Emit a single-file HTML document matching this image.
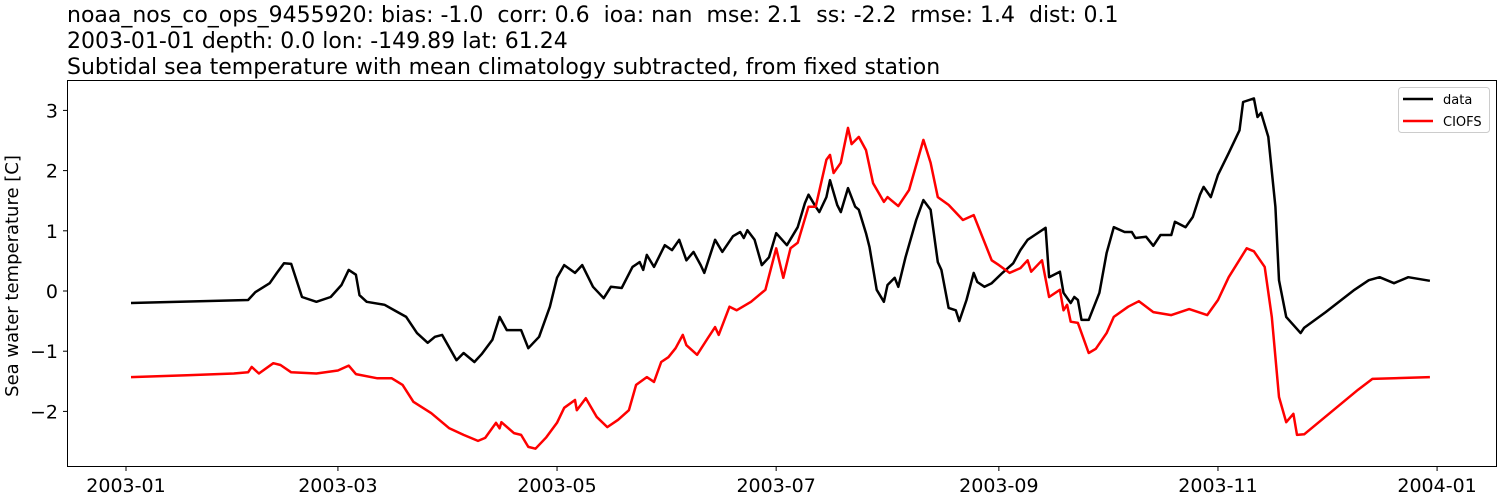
<!DOCTYPE html>
<html><head><meta charset="utf-8"><style>
body{margin:0;background:#fff;}
svg{display:block;font-family:"DejaVu Sans","Liberation Sans",sans-serif;}
text{white-space:pre;}
</style></head><body>
<svg id="chart" width="1500" height="500" xmlns="http://www.w3.org/2000/svg">
<g font-size="22" fill="#000">
<text x="67" y="22" xml:space="preserve">noaa_nos_co_ops_9455920: bias: -1.0  corr: 0.6  ioa: nan  mse: 2.1  ss: -2.2  rmse: 1.4  dist: 0.1</text>
<text x="67" y="48">2003-01-01 depth: 0.0 lon: -149.89 lat: 61.24</text>
<text x="67" y="74">Subtidal sea temperature with mean climatology subtracted, from fixed station</text>
</g>
<text transform="translate(18,276) rotate(-90)" text-anchor="middle" font-size="18">Sea water temperature [C]</text>
<g id="axes"></g>
<g id="series"></g>
<rect x="67.5" y="80.5" width="1429" height="386" fill="none" stroke="#000" stroke-width="1"/>
<g>
<rect x="1398.5" y="87.5" width="91" height="45" rx="3" fill="#fff" fill-opacity="0.8" stroke="#ccc"/>
<line x1="1403" y1="99" x2="1433" y2="99" stroke="#000" stroke-width="2.5"/>
<text x="1443" y="104" font-size="13">data</text>
<line x1="1403" y1="121" x2="1433" y2="121" stroke="#f00" stroke-width="2.5"/>
<text x="1443" y="126" font-size="13">CIOFS</text>
</g>
</svg>
<script>
const dataDays=[1.4,34,36,40,42,44,46,49,53,57,60,62,64,65,67,72,75,78,81,84,86,88,92,94,97,99,102,104,106,110,112,115,118,120,122,125,127,130,133,135,138,141,143,144,145,147,150,152,154,156,158,160,161,164,166,169,171,172,173,175,177,179,181,184,187,189,190,192,193,195,196,198,199,201,203,204,206,207,209,211,212,214,215,217,220,222,224,226,227,229,231,232,234,236,237,239,241,244,247,249,251,253,256,257,260,261,263,264,265,266,268,271,273,275,278,280,281,284,286,288,291,292,295,297,299,300,302,304,307,310,311,314,315,316,318,320,321,323,327,328,334,342,346,349,353,357,363];
const dataVals=[-0.2,-0.15,-0.02,0.13,0.3,0.46,0.45,-0.1,-0.18,-0.1,0.1,0.35,0.27,-0.07,-0.18,-0.23,-0.33,-0.43,-0.7,-0.86,-0.76,-0.73,-1.15,-1.03,-1.18,-1.05,-0.81,-0.43,-0.65,-0.65,-0.95,-0.76,-0.26,0.22,0.43,0.3,0.43,0.07,-0.12,0.07,0.05,0.4,0.48,0.35,0.6,0.4,0.76,0.68,0.85,0.51,0.65,0.43,0.3,0.85,0.65,0.91,0.98,0.88,1.01,0.85,0.43,0.56,0.96,0.76,1.06,1.46,1.6,1.4,1.31,1.56,1.84,1.43,1.31,1.71,1.4,1.35,0.96,0.73,0.02,-0.18,0.1,0.22,0.07,0.56,1.18,1.51,1.35,0.48,0.35,-0.28,-0.32,-0.5,-0.15,0.3,0.15,0.07,0.13,0.3,0.46,0.68,0.85,0.93,1.05,0.23,0.32,-0.03,-0.2,-0.1,-0.15,-0.48,-0.48,-0.03,0.63,1.06,0.98,0.98,0.88,0.9,0.75,0.93,0.93,1.15,1.06,1.23,1.6,1.73,1.56,1.93,2.29,2.67,3.14,3.2,2.89,2.96,2.56,1.4,0.18,-0.43,-0.7,-0.61,-0.35,0.02,0.18,0.23,0.13,0.23,0.17];
const modelDays=[1.4,17,30,34,35,37,41,43,46,53,59,62,64,70,74,77,80,85,90,94,98,100,103,104,104.5,108,110,112,114,117,120,122,125,125.5,128,131,134,137,140,142,145,147,149,151,153,155,156,159,162,164,165,168,170,174,178,181,183,185,187,190,192,195,196,197,199,201,202,204,206,208,211,212,215,218,222,224,226,229,233,236,241,243,246,249,251,252,255,257,260,261,262,263,265,268,270,273,275,279,282,286,291,296,301,304,307,312,314,317,319,321,323,325,326,328,343,347,363];
const modelVals=[-1.43,-1.4,-1.37,-1.35,-1.26,-1.37,-1.2,-1.23,-1.35,-1.37,-1.32,-1.24,-1.38,-1.45,-1.45,-1.56,-1.84,-2.03,-2.28,-2.39,-2.49,-2.44,-2.19,-2.28,-2.18,-2.36,-2.39,-2.59,-2.62,-2.43,-2.19,-1.94,-1.81,-1.98,-1.78,-2.09,-2.26,-2.14,-1.98,-1.56,-1.43,-1.51,-1.18,-1.1,-0.95,-0.73,-0.9,-1.06,-0.78,-0.6,-0.73,-0.26,-0.32,-0.18,0.02,0.71,0.22,0.71,0.8,1.4,1.4,2.18,2.26,1.96,2.13,2.71,2.44,2.56,2.34,1.79,1.48,1.56,1.41,1.68,2.51,2.13,1.56,1.43,1.18,1.26,0.51,0.43,0.3,0.38,0.51,0.32,0.51,-0.1,0.02,-0.32,-0.23,-0.51,-0.53,-1.03,-0.96,-0.7,-0.43,-0.26,-0.17,-0.35,-0.4,-0.3,-0.4,-0.15,0.23,0.71,0.66,0.4,-0.43,-1.76,-2.18,-2.04,-2.39,-2.38,-1.64,-1.46,-1.43];
const yTicks=[-2,-1,0,1,2,3];
const xTickDays=[0,59,120,181,243,304,365];
const xTickLabels=["2003-01","2003-03","2003-05","2003-07","2003-09","2003-11","2004-01"];

const NS="http://www.w3.org/2000/svg";
function xs(d){return 126+d*3.592;}
function ys(v){return 291-v*60.2;}
const axes=document.getElementById('axes');
yTicks.forEach(t=>{
  const l=document.createElementNS(NS,'line');
  
  
  l.setAttribute('x1',63);l.setAttribute('x2',67.5);
  l.setAttribute('y1',ys(t));l.setAttribute('y2',ys(t));l.setAttribute('stroke','#000');
  axes.appendChild(l);
  const tx=document.createElementNS(NS,'text');
  
  
  tx.setAttribute('x',58);tx.setAttribute('y',ys(t)+7);
  tx.setAttribute('text-anchor','end');tx.setAttribute('font-size','19');
  tx.textContent=t<0?'\u2212'+Math.abs(t):String(t);
  axes.appendChild(tx);
});
xTickDays.forEach((d,i)=>{
  const l=document.createElementNS(NS,'line');
  
  
  l.setAttribute('x1',xs(d));l.setAttribute('x2',xs(d));
  l.setAttribute('y1',466.5);l.setAttribute('y2',471);l.setAttribute('stroke','#000');
  axes.appendChild(l);
  const tx=document.createElementNS(NS,'text');
  
  
  tx.setAttribute('x',xs(d));tx.setAttribute('y',492);
  tx.setAttribute('text-anchor','middle');tx.setAttribute('font-size','19');
  tx.textContent=xTickLabels[i];
  axes.appendChild(tx);
});
const series=document.getElementById('series');
function addLine(days,vals,color,name){
  const p=document.createElementNS(NS,'polyline');
  
  
  p.setAttribute('points',days.map((d,i)=>xs(d).toFixed(1)+','+ys(vals[i]).toFixed(1)).join(' '));
  p.setAttribute('fill','none');p.setAttribute('stroke',color);
  p.setAttribute('stroke-width','2.5');p.setAttribute('stroke-linejoin','round');
  series.appendChild(p);
}
addLine(dataDays,dataVals,'#000','data-line');
addLine(modelDays,modelVals,'#f00','ciofs-line');
</script>
</body></html>
